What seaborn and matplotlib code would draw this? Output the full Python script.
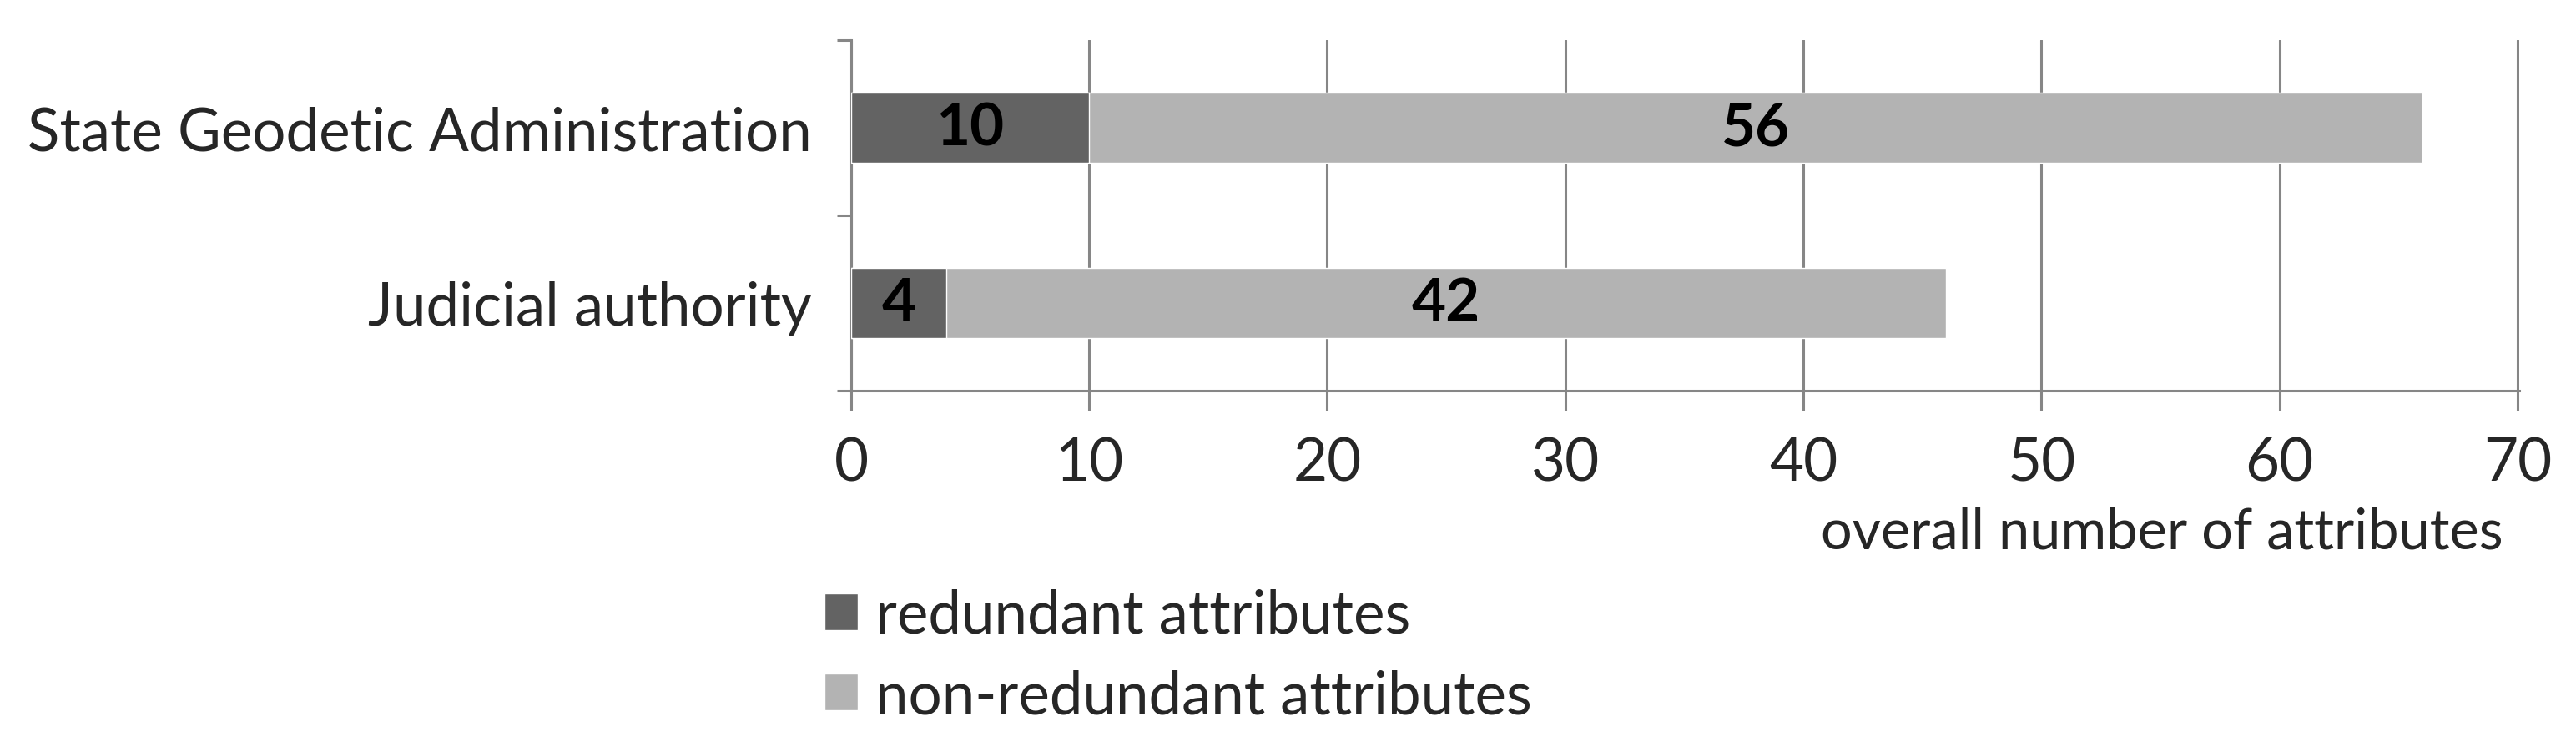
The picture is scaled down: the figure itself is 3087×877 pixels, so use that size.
import numpy as np
import pandas as pd
import matplotlib
matplotlib.use('Agg')
import matplotlib.pyplot as plt
import seaborn as sns
from matplotlib.patches import Patch

# data
categories = ['State Geodetic Administration', 'Judicial authority']
redundant = [10, 4]
non_redundant = [56, 42]
x_ticks = [0, 10, 20, 30, 40, 50, 60, 70]

dark = '#636363'
light = '#b3b3b3'
grid_c = '#868686'

sns.set_style('white')
plt.rcParams['font.family'] = ['Lato', 'DejaVu Sans']

df = pd.DataFrame({'cat': categories, 'red': redundant, 'non': non_redundant})
df['total'] = df['red'] + df['non']

fig = plt.figure(figsize=(30.87, 8.78), dpi=100)
ax = fig.add_axes([0.3304, 0.466, 0.978 - 0.3304, 0.944 - 0.466])

sns.barplot(data=df, y='cat', x='total', color=light, orient='h', width=0.4,
            saturation=1, ax=ax, zorder=3)
sns.barplot(data=df, y='cat', x='red', color=dark, orient='h', width=0.4,
            saturation=1, ax=ax, zorder=3)

for i, (r, n) in enumerate(zip(redundant, non_redundant)):
    ax.text(r / 2, i, str(r), ha='center', va='center', fontsize=51,
            fontweight='bold', color='black', zorder=4)
    ax.text(r + n / 2, i, str(n), ha='center', va='center', fontsize=51,
            fontweight='bold', color='black', zorder=4)

ax.set_xlim(0, 70.08)
ax.set_ylim(1.5, -0.5)
ax.set_xticks(x_ticks)
ax.set_xticklabels([str(t) for t in x_ticks], fontsize=51)
ax.set_yticks([0, 1])
ax.set_yticklabels(categories, fontsize=51)
ax.set_yticks([-0.5, 0.5, 1.5], minor=True)
ax.set_xlabel('')
ax.set_ylabel('')

ax.grid(axis='x', color=grid_c, linewidth=2.2, zorder=0)
ax.grid(axis='y', visible=False)
for s in ['top', 'right']:
    ax.spines[s].set_visible(False)
for s in ['left', 'bottom']:
    ax.spines[s].set_color(grid_c)
    ax.spines[s].set_linewidth(2.2)

ax.tick_params(axis='x', which='major', length=17, width=2.2, color=grid_c,
               direction='out', pad=22, bottom=True)
ax.tick_params(axis='y', which='major', length=0, pad=34)
ax.tick_params(axis='y', which='minor', length=12, width=2.2, color=grid_c,
               direction='out', left=True)

fig.text(3000 / 3087, 1 - 658 / 878, 'overall number of attributes',
         ha='right', va='baseline', fontsize=48)

handles = [Patch(facecolor=dark, label='redundant attributes'),
           Patch(facecolor=light, label='non-redundant attributes')]
fig.legend(handles=handles, loc='upper left', bbox_to_anchor=(988 / 3087, 1 - 706 / 878),
           frameon=False, fontsize=51, handlelength=0.57, handleheight=0.57,
           handletextpad=0.29, labelspacing=0.44, borderaxespad=0, borderpad=0)

fig.savefig('out.png', dpi=100)
